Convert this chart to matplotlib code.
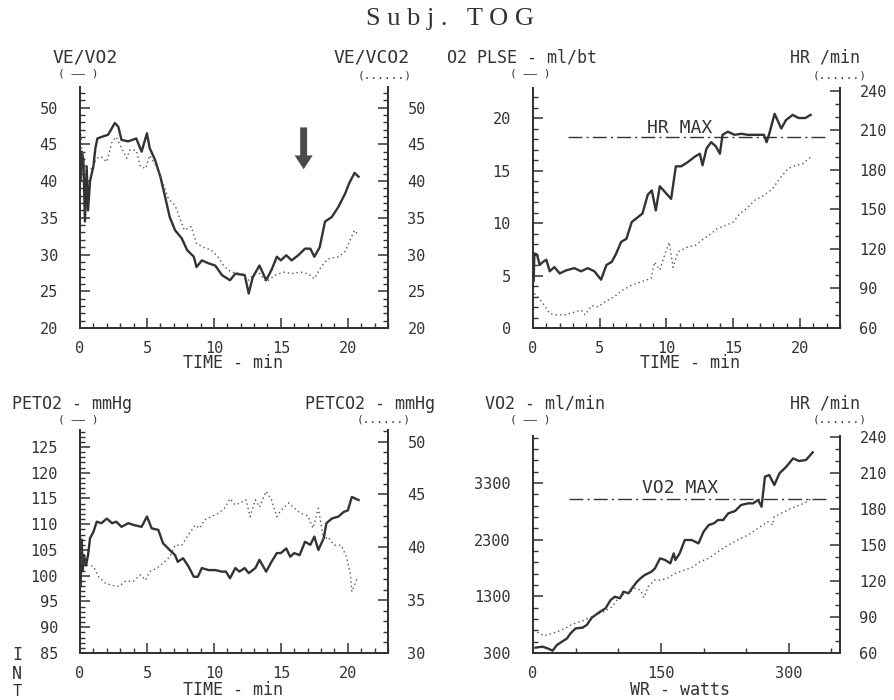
import numpy as np
import matplotlib.pyplot as plt
from matplotlib.ticker import MultipleLocator

# ---- dados ----
# painel 1: VE/VO2 (solido) e VE/VCO2 (pontilhado) vs tempo
t_vevo2 = [0.05, 0.13, 0.25, 0.37, 0.5, 0.6, 0.75, 1.0, 1.15, 1.3, 1.6, 2.1, 2.6, 2.86, 3.1, 3.6,
           4.2, 4.6, 5.0, 5.2, 5.6, 6.0, 6.3, 6.7, 7.1, 7.6, 8.0, 8.5, 8.7, 9.1, 9.6, 10.1,
           10.6, 11.2, 11.6, 12.3, 12.6, 12.9, 13.4, 13.9, 14.3, 14.7, 15.0, 15.4, 15.8, 16.3,
           16.8, 17.2, 17.5, 17.9, 18.3, 18.8, 19.3, 19.8, 20.1, 20.5, 20.8]
ve_vo2 = [40, 44, 43, 34.5, 42, 36, 40, 42, 44.5, 45.8, 46, 46.3, 47.9, 47.4, 45.6, 45.4,
          45.8, 44, 46.5, 44.5, 42.9, 40.6, 38.3, 35.1, 33.3, 32.2, 30.6, 29.7, 28.3, 29.2, 28.8, 28.5,
          27.2, 26.5, 27.4, 27.2, 24.7, 26.9, 28.5, 26.5, 27.9, 29.7, 29.2, 29.9, 29.2, 29.9,
          30.8, 30.8, 29.7, 31.0, 34.5, 35.1, 36.5, 38.3, 39.7, 41.1, 40.6]
t_vevco2 = [0.05, 0.15, 0.4, 0.9, 1.25, 1.6, 2.0, 2.4, 2.7, 3.1, 3.5, 3.7, 4.2, 4.5, 4.9, 5.2,
            5.7, 6.2, 6.6, 7.1, 7.5, 7.8, 8.3, 8.7, 9.2, 9.8, 10.3, 10.8, 11.3, 12.1, 12.6,
            13.2, 13.9, 14.6, 15.2, 15.8, 16.5, 17.0, 17.5, 18.0, 18.5, 19.3, 19.8, 20.1,
            20.5, 20.8]
ve_vco2 = [47, 44, 41.7, 41.7, 43.1, 43.3, 42.6, 45.4, 46.0, 44.5, 43.1, 44.2, 44.2, 42.0, 41.7, 43.5,
           42.0, 39.7, 37.6, 36.7, 34.7, 33.3, 33.8, 31.5, 31.0, 30.6, 29.7, 28.3, 27.6, 27.4, 26.5,
           27.9, 26.3, 27.2, 27.6, 27.4, 27.6, 27.4, 26.7, 28.3, 29.4, 29.7, 30.4, 31.7,
           33.3, 32.6]

# painel 2: pulso de O2 (solido) e FC (pontilhado) vs tempo
t_o2p = [0.05, 0.1, 0.3, 0.5, 0.75, 1.0, 1.25, 1.6, 2.0, 2.5, 3.1, 3.6, 4.1, 4.6, 5.1, 5.5, 5.9,
         6.2, 6.6, 7.0, 7.4, 7.7, 8.2, 8.6, 8.9, 9.2, 9.5, 9.85, 10.35, 10.7, 11.1, 11.6, 12.1,
         12.5, 12.7, 13.0, 13.35, 13.7, 14.0, 14.2, 14.6, 15.1, 15.6, 16.1, 16.8, 17.3, 17.5,
         17.7, 18.1, 18.6, 18.95, 19.45, 19.9, 20.4, 20.8]
o2_pulse = [4.5, 7.1, 7.0, 6.0, 6.3, 6.5, 5.4, 5.8, 5.2, 5.5, 5.7, 5.4, 5.7, 5.4, 4.6, 6.0, 6.3,
            7.0, 8.2, 8.5, 10.1, 10.4, 10.9, 12.7, 13.1, 11.2, 13.5, 13.0, 12.3, 15.4, 15.4, 15.8, 16.3,
            16.6, 15.5, 17.1, 17.7, 17.3, 16.6, 18.4, 18.7, 18.4, 18.5, 18.4, 18.4, 18.4, 17.7,
            18.5, 20.4, 19.0, 19.8, 20.3, 20.0, 20.0, 20.3]
t_hr = [0.1, 0.25, 0.75, 1.25, 1.75, 2.4, 3.1, 3.6, 3.9, 4.4, 4.9, 5.4, 6.1, 6.7, 7.4, 8.1, 8.85,
        9.1, 9.5, 9.85, 10.2, 10.5, 10.85, 11.6, 12.2, 12.8, 13.35, 13.8, 14.5, 15.0, 15.5, 16.0,
        16.6, 17.3, 17.95, 18.45, 19.1, 19.7, 20.2, 20.8]
hr_t = [86, 85, 78.7, 71, 70, 70, 72, 73.6, 70, 77, 76, 80, 83.7, 88.7, 92.5, 95, 97.6,
        110, 104, 115, 125, 106, 117.7, 121.5, 122.8, 127.8, 131.6, 135.4, 138, 140.4, 146.7, 150.5,
        156.8, 160.6, 165.6, 173, 180.8, 183.3, 184.5, 189.6]
hr_max = 205
hr_max_span = [2.6, 22.0]

# painel 3: PETO2 (solido) e PETCO2 (pontilhado) vs tempo
t_peto2 = [0.05, 0.12, 0.2, 0.3, 0.45, 0.6, 0.75, 1.0, 1.25, 1.6, 2.0, 2.4, 2.7, 3.1, 3.6, 4.1,
           4.6, 5.0, 5.35, 5.85, 6.2, 6.7, 7.1, 7.3, 7.7, 8.1, 8.5, 8.8, 9.1, 9.6, 10.1, 10.6,
           10.9, 11.2, 11.6, 11.9, 12.3, 12.6, 13.1, 13.4, 13.9, 14.3, 14.7, 15.0, 15.4, 15.7,
           16.0, 16.4, 16.8, 17.2, 17.5, 17.8, 18.2, 18.4, 18.8, 19.3, 19.7, 20.0, 20.3, 20.8]
peto2 = [98, 107, 101, 104, 102, 104, 107.3, 108.5, 110.5, 110.2, 111.1, 110.2, 110.5, 109.5, 110.2, 109.8,
         109.5, 111.5, 109.2, 108.9, 106.3, 105, 104, 102.7, 103.4, 101.8, 99.8, 99.8, 101.5, 101.1, 101.1, 100.8,
         100.8, 99.5, 101.5, 100.8, 101.5, 100.5, 101.5, 103.1, 100.8, 102.7, 104.4, 104.4, 105.3, 103.7,
         104.4, 104.0, 106.6, 106.0, 107.6, 105.0, 107.3, 110.2, 111.1, 111.5, 112.4, 112.7, 115.3, 114.7]
t_petco2 = [0.05, 0.15, 0.3, 0.5, 1.0, 1.4, 1.9, 2.4, 2.9, 3.4, 4.0, 4.5, 4.9, 5.2, 5.7, 6.2, 6.7,
            7.1, 7.6, 8.1, 8.6, 8.95, 9.3, 9.8, 10.3, 10.8, 11.2, 11.6, 12.1, 12.4, 12.7, 13.1,
            13.4, 13.9, 14.3, 14.7, 15.0, 15.6, 16.0, 16.5, 17.0, 17.4, 17.8, 18.2, 18.5, 19.0,
            19.5, 19.9, 20.2, 20.3, 20.5, 20.7]
petco2 = [41, 38.5, 39.0, 38.3, 38.2, 37.2, 36.6, 36.4, 36.3, 36.8, 36.8, 37.4, 36.9, 37.7, 38.0, 38.5, 39.1,
          40.2, 40.2, 41.2, 42.1, 41.8, 42.6, 42.9, 43.2, 43.7, 44.6, 44.0, 44.3, 44.5, 42.9, 44.5,
          43.8, 45.3, 44.5, 42.9, 43.5, 44.2, 43.7, 43.2, 43.0, 41.8, 43.7, 40.7, 41.0, 40.2,
          40.2, 39.1, 37.4, 35.8, 36.4, 37.1]

# painel 4: VO2 (solido) e FC (pontilhado) vs carga
w_vo2 = [3, 11, 17, 23, 28, 34, 40, 44, 50, 58, 63, 69, 77, 85, 91, 96, 102, 106, 112, 116, 122,
         126, 131, 139, 143, 149, 155, 161, 165, 167, 172, 178, 186, 194, 200, 206, 212, 217,
         223, 229, 237, 244, 252, 258, 264, 268, 272, 277, 283, 289, 297, 305, 312, 320, 328]
vo2 = [394, 412, 382, 341, 441, 500, 559, 647, 735, 747, 794, 924, 1012, 1088, 1235, 1294, 1265, 1382,
       1353, 1441, 1559, 1618, 1676, 1735, 1794, 1971, 1941, 1882, 2059, 1941, 2059, 2294, 2294,
       2235, 2441, 2559, 2588, 2647, 2647, 2765, 2806, 2912, 2941, 2941, 3000, 2882, 3412, 3441,
       3265, 3471, 3588, 3735, 3688, 3706, 3841]
w_hr = [5, 13, 23, 34, 46, 58, 71, 83, 93, 100, 108, 114, 120, 126, 130, 135, 143, 151, 159, 167,
        178, 188, 196, 206, 217, 229, 240, 252, 264, 275, 281, 283, 295, 307, 318, 326]
hr_w = [77.2, 74.4, 76.4, 79.2, 83.9, 86.7, 90.8, 94.4, 98.6, 105.6, 109.7, 111.1, 113.9, 112.5,
        106.1, 115.3, 120.8, 120.8, 122.8, 126.4, 129.2, 131.9, 136.1, 138.9, 144.4, 150, 154.2,
        158.3, 163.9, 169.4, 166.7, 173.6, 177.8, 181.9, 184.7, 188.3]
vo2_max = 3020
vo2_max_span = [42, 343]

# posicao da seta no painel 1 (tempo, topo, ponta)
seta = [16.7, 47.3, 41.6]

tinta = '#333333'
mono = 'DejaVu Sans Mono'
plt.rcParams['font.family'] = mono

W, H = 895, 700
fig = plt.figure(figsize=(W / 100, H / 100), dpi=100)


def px(x, y):
    return x / W, 1 - y / H


def txt(x, y, s, size=12, ha='center', **kw):
    fig.text(*px(x, y), s, ha=ha, va='center', fontsize=size, color=tinta, **kw)


def painel(caixa, ylim, y2lim, xlim, xmaj, xmin, ymaj, ymin, y2maj, y2min, xticks):
    x0, y0, x1, y1 = caixa
    ax = fig.add_axes([x0 / W, 1 - y1 / H, (x1 - x0) / W, (y1 - y0) / H])
    ax2 = ax.twinx()
    for a in (ax, ax2):
        a.spines['top'].set_visible(False)
        for s in ('left', 'right', 'bottom'):
            a.spines[s].set_linewidth(1.4)
            a.spines[s].set_color(tinta)
        a.patch.set_visible(False)
    ax.xaxis.set_major_locator(MultipleLocator(xmaj))
    ax.xaxis.set_minor_locator(MultipleLocator(xmin))
    ax.set_xticks(xticks)
    ax.set_yticks(ymaj)
    ax.set_yticks(ymin, minor=True)
    ax2.set_yticks(y2maj)
    ax2.set_yticks(y2min, minor=True)
    ax.set_ylim(ylim)
    ax2.set_ylim(y2lim)
    ax.set_xlim(xlim)
    ax.tick_params(axis='x', which='both', direction='in', top=False, colors=tinta,
                   labelsize=11, pad=9)
    ax.tick_params(axis='y', which='both', direction='in', right=False, colors=tinta,
                   labelsize=11, pad=16)
    ax2.tick_params(axis='y', which='both', direction='in', left=False, colors=tinta,
                    labelsize=11, pad=14)
    for a in (ax, ax2):
        a.tick_params(which='major', length=7, width=1.1)
        a.tick_params(which='minor', length=3.5, width=1.0)
    return ax, ax2


solido = dict(color=tinta, lw=1.7)
pontos = dict(color='#555555', lw=1.0, linestyle=(0, (1, 2.2)))
traco_ponto = dict(color=tinta, lw=1.0, linestyle=(0, (10, 3, 1.5, 3)))

# ---- painel 1 ----
ax1, ax1b = painel((80, 87, 388, 328), (20, 52.8), (20, 52.8), (0, 23), 5, 1,
                   np.arange(20, 51, 5), np.arange(20, 53, 1),
                   np.arange(20, 51, 5), np.arange(20, 53, 1), [0, 5, 10, 15, 20])
ax1.plot(t_vevo2, ve_vo2, **solido)
ax1b.plot(t_vevco2, ve_vco2, **pontos)
ax1.annotate('', xy=(seta[0], seta[2]), xytext=(seta[0], seta[1]),
             arrowprops=dict(facecolor='#4a4a4a', edgecolor='none', width=5,
                             headwidth=13, headlength=10))

# ---- painel 2 ----
ax2, ax2b = painel((533, 88, 840, 328), (0, 22.86), (60, 242), (0, 23), 5, 1,
                   np.arange(0, 21, 5), np.arange(0, 23, 1),
                   np.arange(60, 241, 30), np.arange(60, 241, 10), [0, 5, 10, 15, 20])
ax2.plot(t_o2p, o2_pulse, **solido)
ax2b.plot(t_hr, hr_t, **pontos)
ax2b.plot(hr_max_span, [hr_max, hr_max], **traco_ponto)

# ---- painel 3 ----
ax3, ax3b = painel((80, 430, 388, 653), (85, 128.3), (30, 51.1), (0, 23), 5, 1,
                   np.arange(85, 126, 5), np.arange(85, 129, 1),
                   np.arange(30, 51, 5), np.arange(30, 52, 1), [0, 5, 10, 15, 20])
ax3.plot(t_peto2, peto2, **solido)
ax3b.plot(t_petco2, petco2, **pontos)

# ---- painel 4 ----
ax4, ax4b = painel((533, 436, 840, 653), (300, 4130), (60, 240.8), (0, 360), 150, 50,
                   np.arange(300, 3301, 1000), np.arange(300, 4130, 200),
                   np.arange(60, 241, 30), np.arange(60, 241, 10), [0, 150, 300])
ax4.plot(w_vo2, vo2, **solido)
ax4b.plot(w_hr, hr_w, **pontos)
ax4.plot(vo2_max_span, [vo2_max, vo2_max], **traco_ponto)

# ---- textos ----
fig.text(*px(450, 19), 'S u b j .   T O G', ha='center', va='center', fontsize=19,
         family='Liberation Serif', color=tinta)

txt(85, 58, 'VE/VO2', 13)
txt(78, 74, '( —— )', 8)
txt(372, 58, 'VE/VCO2', 13)
txt(385, 75, '(......)', 8)
txt(233, 363, 'TIME - min', 12)

txt(447, 58, 'O2 PLSE - ml/bt', 12, ha='left')
txt(530, 74, '( —— )', 8)
txt(825, 58, 'HR /min', 12)
txt(840, 75, '(......)', 8)
txt(690, 363, 'TIME - min', 12)
txt(680, 128, 'HR MAX', 13)

txt(12, 404, 'PETO2 - mmHg', 12, ha='left')
txt(78, 419, '( —— )', 8)
txt(370, 404, 'PETCO2 - mmHg', 12)
txt(384, 419, '(......)', 8)
txt(233, 690, 'TIME - min', 12)
txt(17, 655, 'I', 12)
txt(17, 674, 'N', 12)
txt(17, 692, 'T', 11)

txt(485, 404, 'VO2 - ml/min', 12, ha='left')
txt(530, 419, '( —— )', 8)
txt(825, 404, 'HR /min', 12)
txt(840, 419, '(......)', 8)
txt(680, 690, 'WR - watts', 12)
txt(680, 488, 'VO2 MAX', 13)

fig.savefig('out.png', dpi=100, facecolor='white')
